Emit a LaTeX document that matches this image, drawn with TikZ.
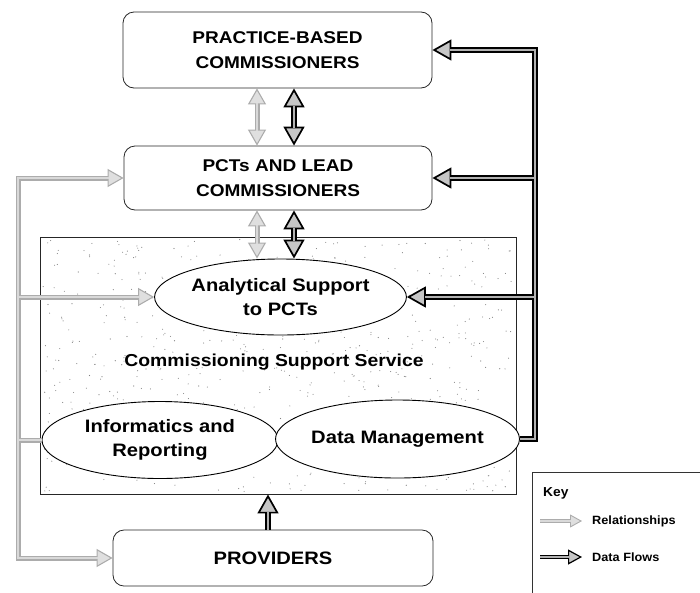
\documentclass[tikz,border=0pt]{standalone}
\usepackage{fontspec}
\setmainfont{Liberation Sans}[FakeStretch=1.12]
\newfontfamily\keyfont{Liberation Sans}[FakeStretch=1.06]
\usetikzlibrary{arrows.meta,shapes.geometric}

% Connectors are drawn in two passes: a wide outline with the heads,
% then a narrow inner stripe on top, so that junctions merge cleanly.
\newcommand\relationlinks{%
  \draw[rel, relboth] (pct.west) -| (L0) -- (prov.west);
  \draw[rel, relto] (L0 |- ana.west) -- (ana.west);
  \draw[rel] (L0 |- inf.west) -- (inf.west);
  \draw[rel, relboth] (pbc.south -| G) -- (pct.north -| G);
  \draw[rel, relboth] (pct.south -| G) -- (ana.north -| G);
  \draw[relkey, relkeyto] (k1a) -- (k1b);
}
\newcommand\flowlinks{%
  \draw[flow, flowto] (dm.east) -| (R0) -- (pbc.east);
  \draw[flow, flowto] (R0 |- pct.east) -- (pct.east);
  \draw[flow, flowto] (R0 |- ana.east) -- (ana.east);
  \draw[flow, flowboth] (pbc.south -| B) -- (pct.north -| B);
  \draw[flow, flowboth] (pct.south -| B) -- (ana.north -| B);
  \draw[flow, flowto] (prov.north -| P) -- (css.south -| P);
  \draw[flowkey, flowkeyto] (k2a) -- (k2b);
}

\tikzset{
  box/.style={draw=black!85, line width=0.8pt, rounded corners=11pt,
    align=center, font=\fontsize{17}{25}\selectfont\bfseries},
  ell/.style={ellipse, draw=black, line width=0.9pt, fill=white, inner sep=0pt,
    align=center, font=\fontsize{18}{24}\selectfont\bfseries},
  frame/.style={draw=black!85, line width=0.9pt, inner sep=0pt},
  keytext/.style={anchor=west, inner sep=0pt, font=\keyfont\fontsize{12}{14}\selectfont\bfseries},
  relhead/.tip={Triangle[length=16pt,width=18pt,line width=1.1pt,fill=gray!25]},
  flowhead/.tip={Triangle[length=19pt,width=21pt,line width=1.7pt,fill=gray!45]},
  relkeyhead/.tip={Triangle[length=12pt,width=13pt,line width=0.9pt,fill=gray!25]},
  flowkeyhead/.tip={Triangle[length=14pt,width=15pt,line width=1.2pt,fill=gray!45]},
}

\begin{document}
\begin{tikzpicture}[x=1pt,y=-1pt]
\useasboundingbox (0,0) rectangle (700,592);

% stippled background of the support service
\pgfmathsetseed{11}
\foreach \i in {1,...,650}
  \fill[black!50] ({42+472*rnd},{239+253*rnd}) circle (0.55);

\node[frame, minimum width=476pt, minimum height=257pt] (css) at (278,365.5) {};
\node[font=\fontsize{17.3}{22}\selectfont\bfseries]
  (csslabel) at (274,362) {Commissioning Support Service};

% boxes
\node[box, minimum width=309pt, minimum height=76pt] (pbc) at (277.5,50)
  {PRACTICE-BASED\\COMMISSIONERS};
\node[box, minimum width=308pt, minimum height=64pt] (pct) at (278,178)
  {PCTs AND LEAD\\COMMISSIONERS};
\node[box, minimum width=320pt, minimum height=56pt,
  font=\fontsize{18}{22}\selectfont\bfseries] (prov) at (273,558) {PROVIDERS};

% service components
\node[ell, minimum width=243pt, minimum height=76pt] (ana) at (280.5,297)
  {Analytical Support\\to PCTs};
\node[ell, minimum width=236pt, minimum height=77pt] (inf) at (160,440)
  {Informatics and\\Reporting};
\node[ell, minimum width=239pt, minimum height=78pt] (dm) at (397.5,439)
  {Data Management};

% routing points
\coordinate (L0) at (18,558);
\coordinate (R0) at (535,50);
\coordinate (G) at (257,0);
\coordinate (B) at (294,0);
\coordinate (P) at (268,0);

% key
\draw[black!80, line width=0.7pt] (532,600) -- (532,472) -- (705,472);
\node[anchor=west, inner sep=0pt, font=\keyfont\fontsize{13}{15}\selectfont\bfseries]
  (key) at (543,493) {Key};
\coordinate (k1a) at (540,521);
\coordinate (k1b) at (582,521);
\coordinate (k2a) at (540,557);
\coordinate (k2b) at (582,557);
\node[keytext] (krel) at (592,521) {Relationships};
\node[keytext] (kflow) at (592,557) {Data Flows};

% relationships: outline pass, then inner pass
\begin{scope}[
  rel/.style={draw=gray!65, line width=5pt},
  relto/.style={-relhead},
  relboth/.style={relhead-relhead},
  relkey/.style={draw=gray!65, line width=3.6pt},
  relkeyto/.style={-relkeyhead}]
  \relationlinks
\end{scope}
\begin{scope}[
  rel/.style={draw=gray!30, line width=2.2pt},
  relto/.style={shorten >=15pt},
  relboth/.style={shorten >=15pt, shorten <=15pt},
  relkey/.style={draw=gray!30, line width=1.5pt},
  relkeyto/.style={shorten >=11pt}]
  \relationlinks
\end{scope}

% data flows: outline pass, then inner pass
\begin{scope}[
  flow/.style={draw=black, line width=5.2pt},
  flowto/.style={-flowhead},
  flowboth/.style={flowhead-flowhead},
  flowkey/.style={draw=black, line width=4pt},
  flowkeyto/.style={-flowkeyhead}]
  \flowlinks
\end{scope}
\begin{scope}[
  flow/.style={draw=gray!60, line width=1.4pt},
  flowto/.style={shorten >=18pt},
  flowboth/.style={shorten >=18pt, shorten <=18pt},
  flowkey/.style={draw=gray!60, line width=1.1pt},
  flowkeyto/.style={shorten >=13pt}]
  \flowlinks
\end{scope}
\end{tikzpicture}
\end{document}
